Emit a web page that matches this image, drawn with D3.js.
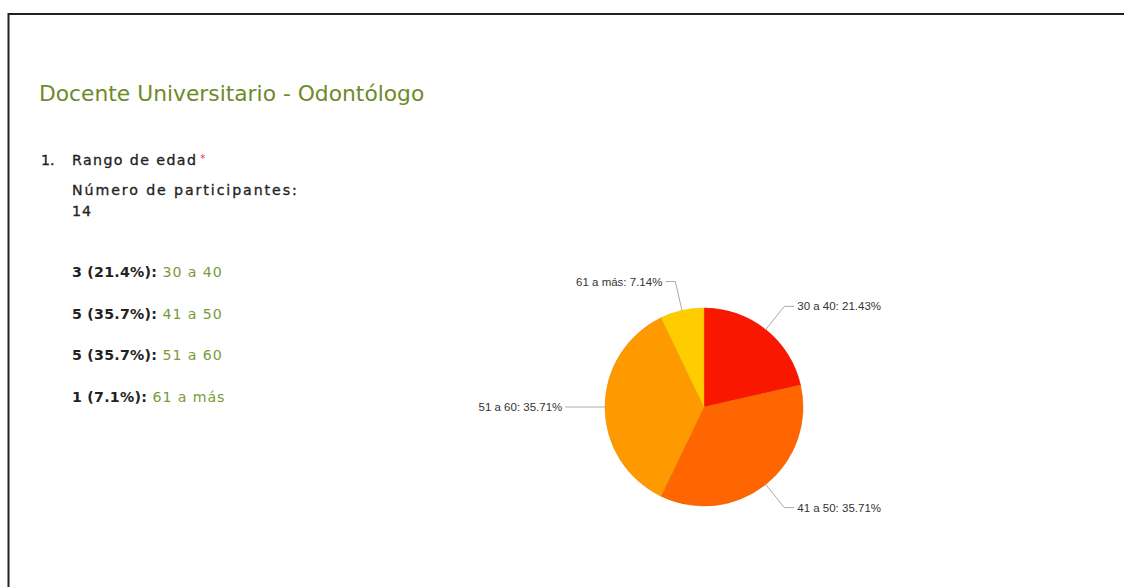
<!DOCTYPE html>
<html><head><meta charset="utf-8">
<script src="https://cdn.jsdelivr.net/npm/d3@7"></script>
<style>html,body{margin:0;padding:0;background:#fff}</style>
</head><body>
<svg id="c" width="1124" height="587"></svg>
<script>
const title = "Docente Universitario - Odontólogo";
const question = "Rango de edad";
const participantsLabel = "Número de participantes:";
const participants = 14;
const categories = ["30 a 40", "41 a 50", "51 a 60", "61 a más"];
const counts = [3, 5, 5, 1];
const percentShort = ["21.4%", "35.7%", "35.7%", "7.1%"];
const percentLong = ["21.43%", "35.71%", "35.71%", "7.14%"];
const colors = ["#fa1700", "#ff6500", "#ff9900", "#ffcc00"];

const svg = d3.select("#c");
svg.append("rect").attr("width",1124).attr("height",587).attr("fill","#fff");
svg.append("path").attr("d","M8.5,587V14H1124").attr("fill","none").attr("stroke","#222").attr("stroke-width",2);

const leftFont = "'DejaVu Sans', Verdana, sans-serif";
svg.append("text").attr("x",39).attr("y",101).attr("font-family",leftFont).attr("font-size",21.8)
  .attr("fill","#6f8a2a").text(title);

function body(t){
  return t.attr("font-family",leftFont).attr("font-size",14.2).attr("fill","#222")
    .attr("stroke","#222").attr("stroke-width",0.3);
}
const q = body(svg.append("text").attr("x",41).attr("y",165));
q.append("tspan").text("1.");
q.append("tspan").attr("x",72).attr("letter-spacing",1.4).text(question);
q.append("tspan").attr("fill","#e33").attr("stroke","none").attr("dx",3).attr("font-size",10).attr("dy",-3).text("*");

body(svg.append("text").attr("x",72).attr("y",195)).attr("letter-spacing",1.9).text(participantsLabel);
body(svg.append("text").attr("x",72).attr("y",216)).attr("letter-spacing",1).text(participants);

const rowY = d3.scalePoint().domain(categories).range([277, 402]);
categories.forEach((c,i)=>{
  const t = svg.append("text").attr("x",72).attr("y",rowY(c)).attr("font-family",leftFont).attr("font-size",14.2);
  t.append("tspan").attr("fill","#222").attr("font-weight","bold").attr("letter-spacing",0.25)
    .text(`${counts[i]} (${percentShort[i]}):`);
  t.append("tspan").attr("fill","#7b9b3a").attr("letter-spacing",0.9).text(" " + c);
});

// Pie
const cx = 704, cy = 407, r = 99;
const data = categories.map((c,i)=>({cat:c, v:counts[i], color:colors[i], pl:percentLong[i]}));
const pie = d3.pie().value(d=>d.v).sort(null);
const arcs = pie(data);
const arc = d3.arc().innerRadius(0).outerRadius(r);
const g = svg.append("g").attr("transform",`translate(${cx},${cy})`);
g.selectAll("path.s").data(arcs).join("path").attr("class","s").attr("d",arc)
  .attr("fill",d=>d.data.color).attr("stroke",d=>d3.color(d.data.color).darker(0.3)).attr("stroke-width",0.5);

const labelFont = "'Liberation Sans', Arial, sans-serif";
arcs.forEach(a=>{
  const m = (a.startAngle + a.endAngle)/2;
  const sx = Math.sin(m), sy = -Math.cos(m);
  const p0 = [r*sx, r*sy];
  const p1 = [r*1.3*sx, r*1.3*sy];
  const dir = sx > 0 ? 1 : -1;
  const p2 = [p1[0] + dir*10, p1[1]];
  g.append("polyline").attr("points",[p0,p1,p2].map(p=>p.join(",")).join(" "))
    .attr("fill","none").attr("stroke","#aaa").attr("stroke-width",1);
  g.append("text").attr("x",p2[0]+dir*3).attr("y",p2[1]+4)
    .attr("text-anchor",dir>0?"start":"end").attr("font-family",labelFont).attr("font-size",11.5)
    .attr("fill","#333").text(`${a.data.cat}: ${a.data.pl}`);
});
</script>
</body></html>
